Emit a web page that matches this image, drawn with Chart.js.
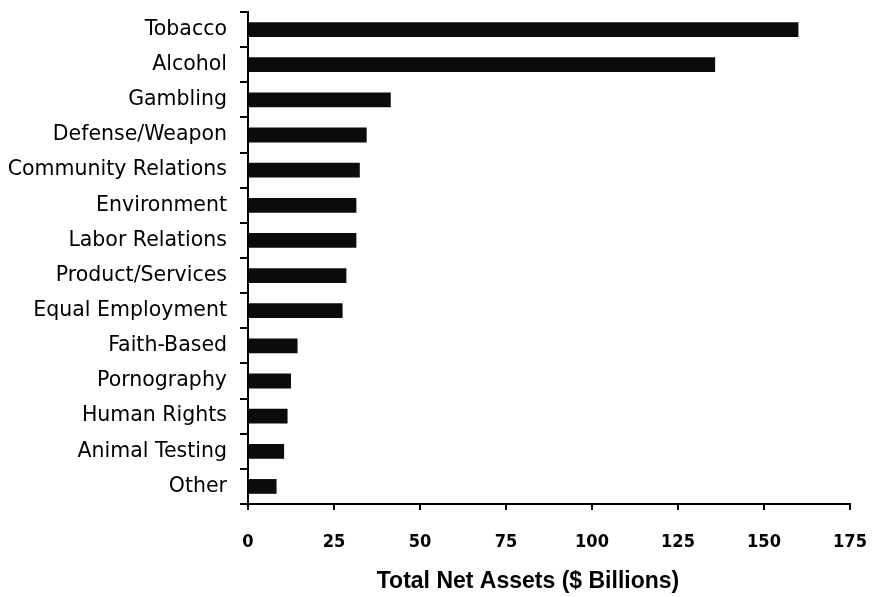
<!DOCTYPE html>
<html>
<head>
<meta charset="utf-8">
<script src="https://cdn.jsdelivr.net/npm/chart.js@4/dist/chart.umd.min.js"></script>
<style>
    html, body { margin: 0; padding: 0; background: #fff; }
    #wrap { width: 883px; height: 597px; }
</style>
</head>
<body>
<div id="wrap"><canvas id="assetsChart" width="883" height="597"></canvas></div>
<script>
// Screened categories and their total net assets ($ billions)
const categories = [
    "Tobacco", "Alcohol", "Gambling", "Defense/Weapon", "Community Relations",
    "Environment", "Labor Relations", "Product/Services", "Equal Employment",
    "Faith-Based", "Pornography", "Human Rights", "Animal Testing", "Other"
];
const netAssets = [160, 135.8, 41.5, 34.5, 32.5, 31.5, 31.5, 28.6, 27.5, 14.4, 12.5, 11.5, 10.5, 8.3];
const xTicks = [0, 25, 50, 75, 100, 125, 150, 175];
const xTitle = "Total Net Assets ($ Billions)";

const labelFont = "'DejaVu Sans', Tahoma, sans-serif";
const tickFont = "'DejaVu Sans Condensed', 'DejaVu Sans', sans-serif";

// axis title sits a little left of the plot centre
const axisTitle = {
    id: "axisTitle",
    afterDraw(chart) {
        const { ctx, chartArea } = chart;
        ctx.save();
        ctx.fillStyle = "#000";
        ctx.font = "bold 23px 'Liberation Sans', Arial, sans-serif";
        ctx.textAlign = "center";
        ctx.textBaseline = "middle";
        ctx.fillText(xTitle, (chartArea.left + chartArea.right) / 2 - 21, chartArea.bottom + 78);
        ctx.restore();
    }
};

new Chart(document.getElementById("assetsChart"), {
    type: "bar",
    data: {
        labels: categories,
        datasets: [{
            data: netAssets,
            backgroundColor: "#0b0b0b",
            borderWidth: 0,
            barPercentage: 0.42,
            categoryPercentage: 1.0
        }]
    },
    options: {
        indexAxis: "y",
        responsive: false,
        animation: false,
        layout: { padding: { top: 12, right: 33, left: 0, bottom: 0 } },
        plugins: {
            legend: { display: false },
            tooltip: { enabled: false }
        },
        scales: {
            y: {
                afterFit: scale => {
                    scale.width = 248;
                    scale.paddingTop = 0;
                    scale.paddingBottom = 0;
                },
                border: { color: "#000", width: 2 },
                grid: { drawOnChartArea: false, color: "#000", lineWidth: 2, tickLength: 8 },
                ticks: {
                    color: "#000",
                    padding: 13,
                    font: { family: labelFont, size: 20.5 }
                }
            },
            x: {
                min: 0,
                max: 175,
                afterFit: scale => {
                    scale.height = 93;
                    scale.paddingLeft = 0;
                    scale.paddingRight = 0;
                },
                afterBuildTicks: scale => { scale.ticks = xTicks.map(v => ({ value: v })); },
                border: { color: "#000", width: 2 },
                grid: { drawOnChartArea: false, color: "#000", lineWidth: 2, tickLength: 6 },
                ticks: {
                    color: "#000",
                    padding: 22,
                    maxRotation: 0,
                    font: { family: tickFont, size: 18, weight: "bold" }
                }
            }
        }
    },
    plugins: [axisTitle]
});
</script>
</body>
</html>
